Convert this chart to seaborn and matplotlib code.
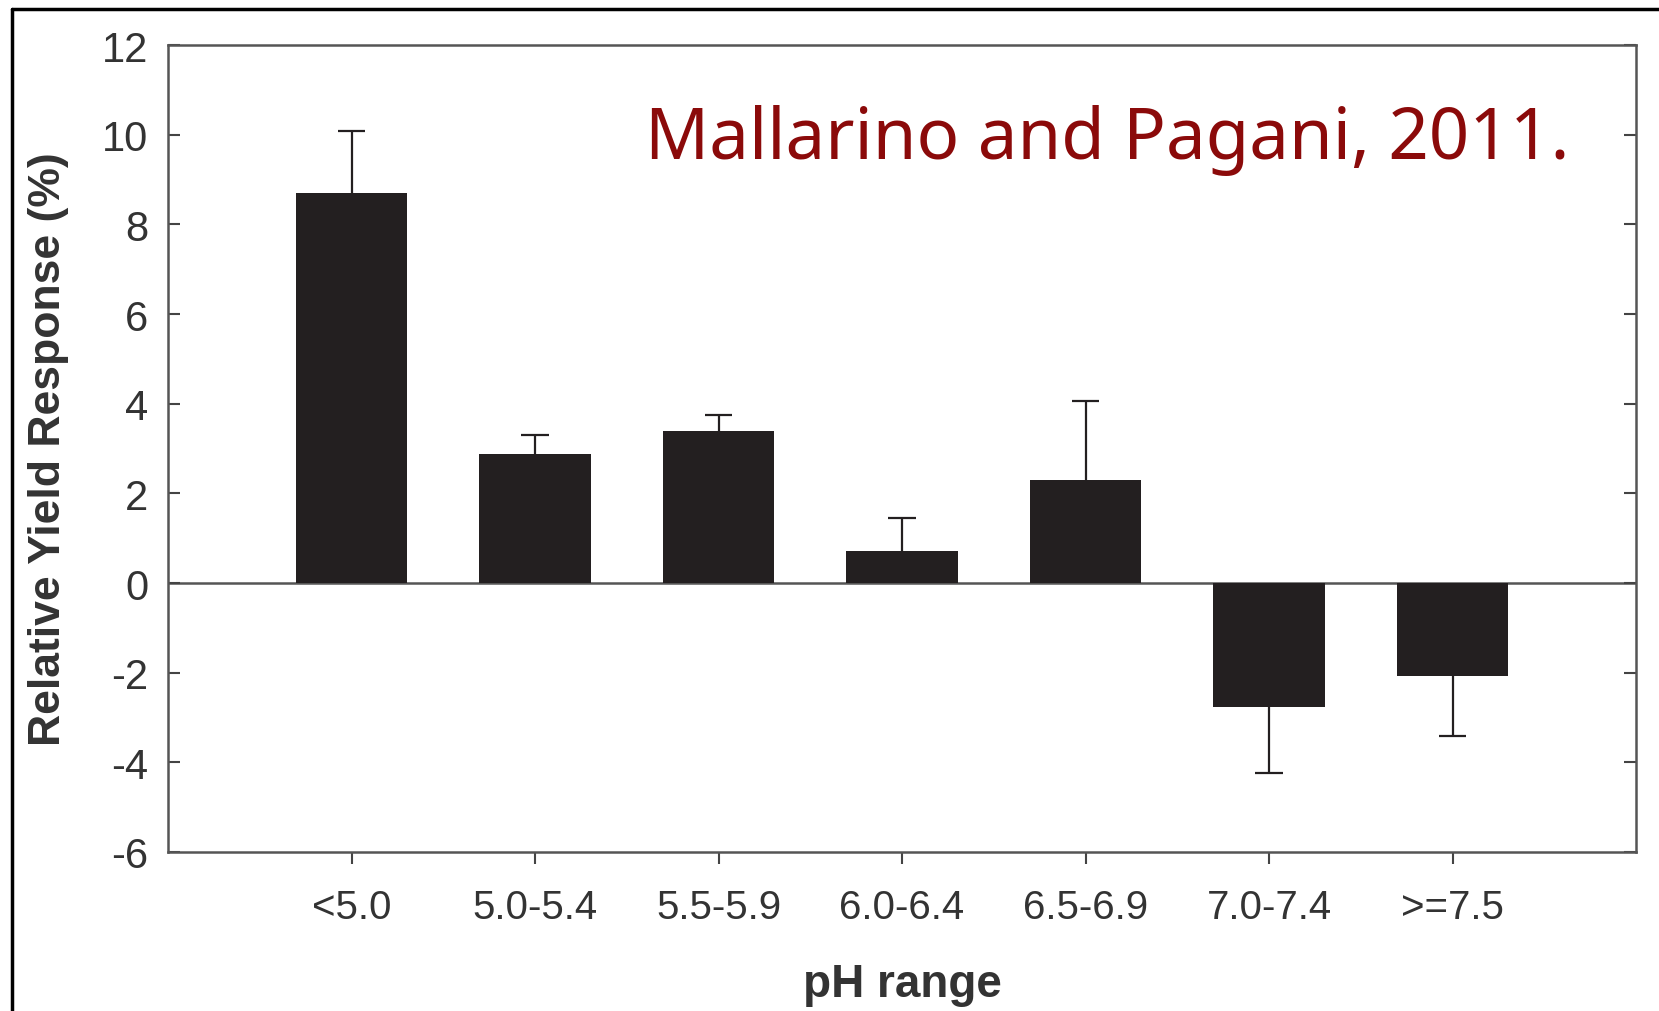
import matplotlib
matplotlib.use("Agg")
import matplotlib.pyplot as plt
import seaborn as sns
import pandas as pd
import numpy as np
from matplotlib.lines import Line2D

categories = ["<5.0", "5.0-5.4", "5.5-5.9", "6.0-6.4", "6.5-6.9", "7.0-7.4", ">=7.5"]
values = [8.7, 2.87, 3.39, 0.72, 2.30, -2.77, -2.08]
error_ends = [10.09, 3.30, 3.74, 1.46, 4.07, -4.23, -3.42]
y_ticks = [-6, -4, -2, 0, 2, 4, 6, 8, 10, 12]

df = pd.DataFrame({"pH": categories, "resp": values})

sns.set_theme(style="white")
plt.rcParams["font.family"] = ["Liberation Sans", "DejaVu Sans"]

W, H = 1659, 1012
fig = plt.figure(figsize=(W / 100, H / 100), dpi=100)
ax = fig.add_axes([168 / W, 1 - 853 / H, (1636 - 168) / W, (853 - 46) / H])

bar_color = "#231f20"
sns.barplot(data=df, x="pH", y="resp", color=bar_color, width=0.605,
            errorbar=None, ax=ax, saturation=1, edgecolor=bar_color, linewidth=0)

# one-sided error bars (away from zero)
pos = np.arange(len(categories))
cap_half = 0.075
ax.vlines(pos, values, error_ends, color="#231f20", linewidth=1.6, zorder=0.9)
ax.hlines(error_ends, pos - cap_half, pos + cap_half, color="#231f20",
          linewidth=1.6, zorder=0.9)

ax.axhline(0, color="#555555", linewidth=1.8, zorder=0.5)

ax.set_xlim(-1, 7)
ax.set_ylim(-6, 12)
ax.set_yticks(y_ticks)
ax.set_yticklabels([str(t) for t in y_ticks])

for s in ax.spines.values():
    s.set_visible(True)
    s.set_color("#555555")
    s.set_linewidth(1.8)

ax.tick_params(axis="y", direction="in", length=8.6, width=1.5, color="#444444",
               left=True, right=True, labelsize=30, labelcolor="#333333", pad=14)
ax.tick_params(axis="x", direction="out", length=8.6, width=1.5, color="#444444",
               bottom=True, top=False, labelsize=29, labelcolor="#333333", pad=17)

ax.set_xlabel("pH range", fontsize=33, fontweight="bold", color="#333333", labelpad=26)
ax.set_ylabel("Relative Yield Response (%)", fontsize=32, fontweight="bold",
              color="#333333", labelpad=24)

ax.text(0.955, 0.883, "Mallarino and Pagani, 2011.", transform=ax.transAxes,
        ha="right", va="center", fontsize=51, color="#8b0a0a",
        family=["Noto Sans", "DejaVu Sans"])

# outer frame (top and left edges)
fig.add_artist(Line2D([12 / W, 12 / W], [0, 1 - 10 / H], transform=fig.transFigure,
                      color="black", linewidth=2.5))
fig.add_artist(Line2D([12 / W, 1], [1 - 10 / H, 1 - 10 / H], transform=fig.transFigure,
                      color="black", linewidth=2.5))

fig.savefig("out.png", dpi=100, facecolor="white")
